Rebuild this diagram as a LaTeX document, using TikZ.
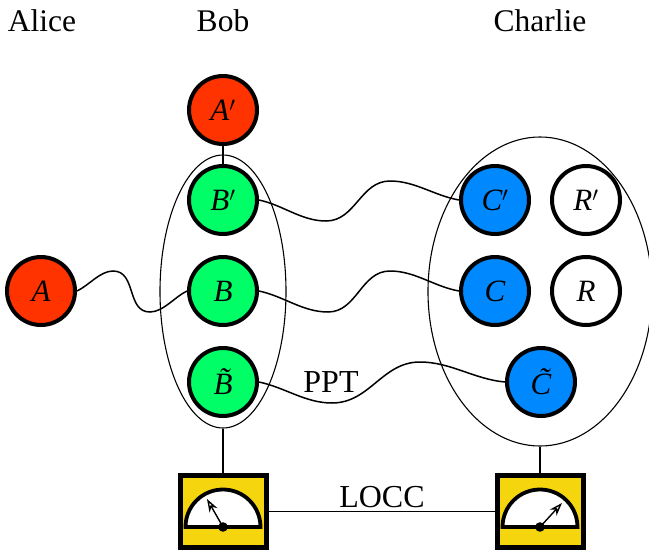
\documentclass[tikz,border=0pt]{standalone}
\usepackage{fontspec}
\setmainfont{Liberation Serif}
\usetikzlibrary{shapes.geometric,arrows.meta}
\definecolor{qred}{RGB}{255,51,0}
\definecolor{qgreen}{RGB}{0,255,102}
\definecolor{qblue}{RGB}{0,136,255}
\definecolor{qyellow}{RGB}{245,214,14}
\tikzset{
  party/.style={font=\fontsize{31.5}{36}\selectfont,inner sep=0pt,anchor=base},
  qubit/.style={circle,draw=black,line width=4pt,minimum size=68pt,inner sep=0pt,font=\fontsize{31}{35}\selectfont\itshape},
  redq/.style={qubit,fill=qred},
  greenq/.style={qubit,fill=qgreen},
  blueq/.style={qubit,fill=qblue},
  whiteq/.style={qubit,fill=white},
  group/.style={ellipse,draw=black,line width=1.1pt,inner sep=0pt},
  wire/.style={draw=black,line width=1.5pt},
  meterbox/.style={rectangle,draw=black,line width=5pt,fill=qyellow,minimum width=86pt,minimum height=72pt,inner sep=0pt},
  dial/.style={draw=black,line width=3.8pt,fill=white},
  needle/.style={draw=black,line width=1.4pt,-{Stealth[length=13pt,width=9pt,inset=4pt,open,fill=none]}},
  lab/.style={font=\fontsize{32}{36}\selectfont,inner sep=0pt}
}
\newcommand{\pr}[1]{#1$'$}
\begin{document}
\begin{tikzpicture}[x=1pt,y=-1pt]
\useasboundingbox (0,0) rectangle (649,555);
\node[party] (alice) at (42,31) {Alice};
\node[party] (bob) at (223,31) {Bob};
\node[party] (charlie) at (540,31) {Charlie};
\node[group,minimum width=126pt,minimum height=273pt] (bobset) at (223,291.5) {};
\node[group,minimum width=224pt,minimum height=309pt] (charset) at (540,291.5) {};
\node[meterbox] (m1) at (223,511.5) {};
\node[meterbox] (m2) at (540,511.5) {};
\node[redq] (a) at (41,291) {A};
\node[redq] (ap) at (223,110) {\pr{A}};
\node[greenq] (bp) at (223,200) {\pr{B}};
\node[greenq] (b) at (223,291) {B};
\node[greenq] (bt) at (223,382) {\~B};
\node[blueq] (cp) at (495,200) {\pr{C}};
\node[blueq] (c) at (495,291) {C};
\node[blueq] (ct) at (541,382) {\~C};
\node[whiteq] (rp) at (586,200) {\pr{R}};
\node[whiteq] (r) at (586,291) {R};
\coordinate (w1a) at (113,271); \coordinate (w1b) at (150,312);
\coordinate (w2a) at (326,221); \coordinate (w2b) at (390,181);
\coordinate (w3a) at (328,312); \coordinate (w3b) at (390,271);
\coordinate (w4a) at (332,403); \coordinate (w4b) at (420,362);
\draw[wire] (a.east) to[out=25,in=180,looseness=.8] (w1a) to[out=0,in=180,looseness=1.1] (w1b) to[out=0,in=205,looseness=.8] (b.west);
\draw[wire] (bp.east) to[out=-12,in=180,looseness=.9] (w2a) to[out=0,in=180] (w2b) to[out=0,in=170,looseness=.9] (cp.west);
\draw[wire] (b.east) to[out=-12,in=180,looseness=.9] (w3a) to[out=0,in=180] (w3b) to[out=0,in=170,looseness=.9] (c.west);
\draw[wire] (bt.east) to[out=-12,in=180,looseness=.9] (w4a) to[out=0,in=180] (w4b) to[out=0,in=175,looseness=.9] (ct.west);
\draw[wire] (ap) -- (bp);
\draw[wire] (bobset.south) -- (m1.north);
\draw[wire] (charset.south) -- (m2.north);
\draw[wire] (m1.east) -- (m2.west);
\node[lab] (ppt) at (331,382) {PPT};
\node[lab] (locc) at (382,497) {LOCC};
\coordinate (d1) at (223,527); \coordinate (d2) at (540,527);
\coordinate (t1) at (207,499); \coordinate (t2) at (562,503);
\draw[dial] (185.5,527) arc[start angle=180,end angle=360,radius=37.5] -- cycle;
\draw[dial] (502.5,527) arc[start angle=180,end angle=360,radius=37.5] -- cycle;
\draw[needle] (d1) -- (t1);
\draw[needle] (d2) -- (t2);
\fill[black] (d1) circle[radius=4.8];
\fill[black] (d2) circle[radius=4.8];
\end{tikzpicture}
\end{document}
